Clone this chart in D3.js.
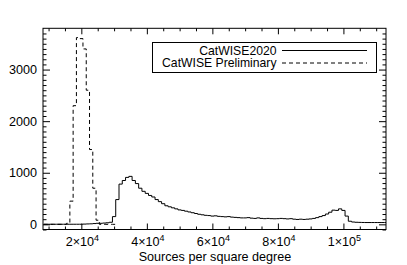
<!DOCTYPE html>
<html>
<head>
<meta charset="utf-8">
<script src="https://cdn.jsdelivr.net/npm/d3@7"></script>
<style>
  body { margin: 0; background: #fff; }
  text { font-family: "Liberation Sans", Arial, sans-serif; font-size: 12.6px; fill: #000; }
  text.leg { font-size: 12.2px; }
</style>
</head>
<body>
<svg width="407" height="265"></svg>
<script>
// bins are 1000 sources/deg^2 wide, listed by centre
const binWidth = 1000;
const catwise2020Bins = d3.range(9000, 113001, 1000);
const catwise2020Counts = [
  2, 2, 2, 2, 2, 2, 2, 2, 2, 2, 2, 2,          // 9000-20000
  5, 8, 10, 15, 20, 20, 25, 30, 40,             // 21000-29000
  150, 480, 780, 850, 910, 930, 850, 790, 700, 640, // 30000-39000
  600, 560, 530, 480, 440, 400, 360, 340, 320, 300, // 40000-49000
  280, 270, 255, 240, 225, 210, 195, 185, 175, 170, // 50000-59000
  160, 165, 155, 150, 145, 150, 140, 135, 130, 125, // 60000-69000
  125, 130, 120, 115, 125, 115, 110, 115, 110, 108, // 70000-79000
  110, 115, 110, 105, 110, 100, 95, 100, 95, 100,   // 80000-89000
  105, 115, 130, 150, 170, 200, 235, 275, 270, 300, // 90000-99000
  270, 160, 60, 45, 40, 38, 36, 35, 35, 35, 35, 35, 35, 35 // 100000-113000
];
const prelimBins = d3.range(9000, 30001, 1000);
const prelimCounts = [
  0, 0, 0, 0, 0, 0, 0,            // 9000-15000
  20, 450, 2300, 3620, 3600, 3400, 2600, 1450, 700, 80, // 16000-25000
  0, 0, 0, 0, 0                   // 26000-30000
];

const legendLabels = ['CatWISE2020', 'CatWISE Preliminary'];
const legendDash = [null, '4,3'];
const xMajorTicks = [20000, 40000, 60000, 80000, 100000];
const xTickLabels = [['2\u00d710', '4'], ['4\u00d710', '4'], ['6\u00d710', '4'], ['8\u00d710', '4'], ['1\u00d710', '5']];
const yMajorTicks = [0, 1000, 2000, 3000];
const xTitle = 'Sources per square degree';

const svg = d3.select('svg');
const pLeft = 43, pRight = 386, pTop = 28.3, pBottom = 229.5;

const x = d3.scaleLinear().domain([8300, 113000]).range([pLeft, pRight]);
const y = d3.scaleLinear().domain([-100, 3800]).range([pBottom, pTop]);

svg.append('clipPath').attr('id', 'plotClip')
  .append('rect').attr('x', pLeft).attr('y', pTop).attr('width', pRight - pLeft).attr('height', pBottom - pTop);

const stepLine = d3.line()
  .x(d => x(d[0]))
  .y(d => y(d[1]));

function stepPoints(bins, counts) {
  const pts = [];
  bins.forEach((c, i) => {
    pts.push([c - binWidth / 2, counts[i]]);
    pts.push([c + binWidth / 2, counts[i]]);
  });
  return pts;
}

const g = svg.append('g').attr('clip-path', 'url(#plotClip)');

g.append('path')
  .attr('d', stepLine(stepPoints(catwise2020Bins, catwise2020Counts)))
  .attr('fill', 'none').attr('stroke', '#000').attr('stroke-width', 1);

g.append('path')
  .attr('d', stepLine(stepPoints(prelimBins, prelimCounts)))
  .attr('fill', 'none').attr('stroke', '#000').attr('stroke-width', 1)
  .attr('stroke-dasharray', '4,3');

// axes, IDL style: ticks on all four sides
const xMinor = d3.range(10000, 113000, 5000).filter(v => !xMajorTicks.includes(v));
const yMinor = d3.range(-100, 3800, 100).filter(v => !yMajorTicks.includes(v));

const axisBottom = d3.axisBottom(x).tickValues(xMajorTicks).tickSize(-6).tickFormat('');
const axisBottomMinor = d3.axisBottom(x).tickValues(xMinor).tickSize(-3).tickFormat('');
const axisTop = d3.axisTop(x).tickValues(xMajorTicks).tickSize(-6).tickFormat('');
const axisTopMinor = d3.axisTop(x).tickValues(xMinor).tickSize(-3).tickFormat('');
const axisLeft = d3.axisLeft(y).tickValues(yMajorTicks).tickSize(-7).tickFormat('');
const axisLeftMinor = d3.axisLeft(y).tickValues(yMinor).tickSize(-3.5).tickFormat('');
const axisRight = d3.axisRight(y).tickValues(yMajorTicks).tickSize(-7).tickFormat('');
const axisRightMinor = d3.axisRight(y).tickValues(yMinor).tickSize(-3.5).tickFormat('');

[[axisBottom, `translate(0,${pBottom})`], [axisBottomMinor, `translate(0,${pBottom})`],
 [axisTop, `translate(0,${pTop})`], [axisTopMinor, `translate(0,${pTop})`],
 [axisLeft, `translate(${pLeft},0)`], [axisLeftMinor, `translate(${pLeft},0)`],
 [axisRight, `translate(${pRight},0)`], [axisRightMinor, `translate(${pRight},0)`]]
  .forEach(([ax, tr]) => {
    const a = svg.append('g').attr('transform', tr).call(ax);
    a.select('.domain').remove();
    a.selectAll('line').attr('stroke', '#000');
  });

svg.append('rect')
  .attr('x', pLeft).attr('y', pTop).attr('width', pRight - pLeft).attr('height', pBottom - pTop)
  .attr('fill', 'none').attr('stroke', '#000').attr('stroke-width', 1);

// tick labels
svg.selectAll('.ylab').data(yMajorTicks).enter().append('text')
  .attr('class', 'ylab')
  .attr('x', pLeft - 6).attr('y', d => y(d) + 4.5)
  .attr('text-anchor', 'end')
  .text(d => d);

const xl = svg.selectAll('.xlab').data(xMajorTicks).enter().append('text')
  .attr('class', 'xlab')
  .attr('x', d => x(d) + 1).attr('y', pBottom + 16.5)
  .attr('text-anchor', 'middle');
xl.append('tspan').text((d, i) => xTickLabels[i][0]);
xl.append('tspan').attr('dy', -5).style('font-size', '9px').text((d, i) => xTickLabels[i][1]);

svg.append('text')
  .attr('x', (pLeft + pRight) / 2 + 0.5).attr('y', 261)
  .attr('text-anchor', 'middle')
  .text(xTitle);

// legend
const legend = svg.append('g');
legend.append('rect')
  .attr('x', 152.5).attr('y', 42.5).attr('width', 224).attr('height', 30)
  .attr('fill', '#fff').attr('stroke', '#000').attr('stroke-width', 1);

legendLabels.forEach((label, i) => {
  const ly = 50.5 + i * 12.5;
  legend.append('text')
    .attr('class', 'leg')
    .attr('x', 276.5).attr('y', ly + 4.3)
    .attr('text-anchor', 'end')
    .text(label);
  legend.append('line')
    .attr('x1', 282).attr('x2', 367).attr('y1', ly).attr('y2', ly)
    .attr('stroke', '#000').attr('stroke-width', 1)
    .attr('stroke-dasharray', legendDash[i]);
});
</script>
</body>
</html>
